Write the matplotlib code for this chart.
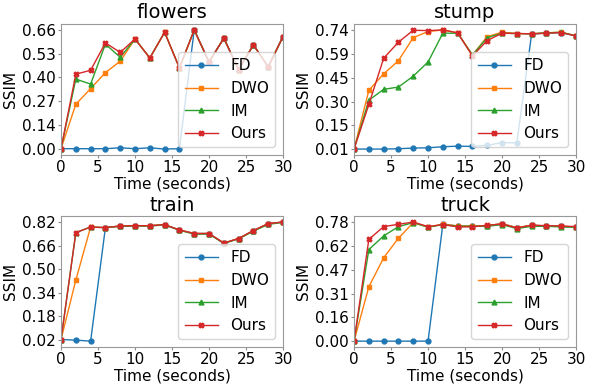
import matplotlib
matplotlib.use("Agg")
import matplotlib.pyplot as plt
import numpy as np

time = [0, 2, 4, 6, 8, 10, 12, 14, 16, 18, 20, 22, 24, 26, 28, 30]
methods = ["FD", "DWO", "IM", "Ours"]
markers = ["o", "s", "^", "X"]
colors = ["#1f77b4", "#ff7f0e", "#2ca02c", "#d62728"]

scenes = ["flowers", "stump", "train", "truck"]

flowers_fd = [0.0, 0.0, 0.0, 0.0, 0.005, 0.0, 0.005, -0.002, 0.0, 0.66, 0.482, 0.614, 0.44, 0.577, 0.455, 0.623]
flowers_dwo = [0.0, 0.247, 0.334, 0.423, 0.486, 0.61, 0.504, 0.647, 0.449, 0.66, 0.482, 0.614, 0.44, 0.577, 0.455, 0.623]
flowers_im = [0.0, 0.387, 0.359, 0.581, 0.508, 0.61, 0.504, 0.647, 0.449, 0.66, 0.482, 0.614, 0.44, 0.577, 0.455, 0.623]
flowers_ours = [0.0, 0.414, 0.436, 0.588, 0.535, 0.61, 0.504, 0.647, 0.449, 0.66, 0.482, 0.614, 0.44, 0.577, 0.455, 0.623]

stump_fd = [0.01, 0.01, 0.01, 0.012, 0.016, 0.018, 0.024, 0.028, 0.026, 0.032, 0.05, 0.048, 0.718, 0.722, 0.726, 0.705]
stump_dwo = [0.01, 0.371, 0.472, 0.553, 0.695, 0.732, 0.742, 0.724, 0.588, 0.701, 0.728, 0.72, 0.718, 0.724, 0.728, 0.705]
stump_im = [0.01, 0.31, 0.377, 0.391, 0.458, 0.545, 0.722, 0.722, 0.588, 0.695, 0.722, 0.72, 0.718, 0.724, 0.728, 0.705]
stump_ours = [0.01, 0.284, 0.568, 0.667, 0.74, 0.738, 0.742, 0.724, 0.582, 0.677, 0.722, 0.72, 0.718, 0.722, 0.726, 0.705]

train_fd = [0.022, 0.018, 0.011, 0.782, 0.793, 0.795, 0.795, 0.802, 0.766, 0.742, 0.742, 0.677, 0.708, 0.762, 0.809, 0.82]
train_dwo = [0.022, 0.426, 0.786, 0.782, 0.793, 0.795, 0.795, 0.802, 0.766, 0.742, 0.742, 0.677, 0.708, 0.762, 0.809, 0.82]
train_im = [0.022, 0.748, 0.786, 0.782, 0.791, 0.793, 0.793, 0.8, 0.764, 0.738, 0.738, 0.675, 0.706, 0.758, 0.804, 0.818]
train_ours = [0.022, 0.748, 0.786, 0.782, 0.793, 0.795, 0.795, 0.802, 0.766, 0.742, 0.742, 0.677, 0.708, 0.762, 0.809, 0.82]

truck_fd = [0.0, 0.0, 0.0, 0.0, 0.0, 0.0, 0.767, 0.756, 0.756, 0.758, 0.771, 0.745, 0.761, 0.756, 0.754, 0.748]
truck_dwo = [0.0, 0.357, 0.547, 0.676, 0.778, 0.748, 0.769, 0.756, 0.756, 0.758, 0.771, 0.745, 0.761, 0.756, 0.754, 0.748]
truck_im = [0.0, 0.601, 0.691, 0.752, 0.778, 0.748, 0.765, 0.754, 0.754, 0.754, 0.765, 0.739, 0.754, 0.754, 0.75, 0.748]
truck_ours = [0.0, 0.668, 0.752, 0.767, 0.782, 0.752, 0.765, 0.75, 0.75, 0.761, 0.769, 0.743, 0.761, 0.758, 0.756, 0.752]

series = {
    "flowers": [flowers_fd, flowers_dwo, flowers_im, flowers_ours],
    "stump": [stump_fd, stump_dwo, stump_im, stump_ours],
    "train": [train_fd, train_dwo, train_im, train_ours],
    "truck": [truck_fd, truck_dwo, truck_im, truck_ours],
}

ytick_labels = {
    "flowers": ["0.00", "0.14", "0.27", "0.40", "0.53", "0.66"],
    "stump": ["0.01", "0.15", "0.30", "0.45", "0.59", "0.74"],
    "train": ["0.02", "0.18", "0.34", "0.50", "0.66", "0.82"],
    "truck": ["0.00", "0.16", "0.31", "0.47", "0.62", "0.78"],
}
xticks = [0, 5, 10, 15, 20, 25, 30]

fig, axes = plt.subplots(2, 2, figsize=(5.89, 3.90), dpi=100)
fig.subplots_adjust(left=0.1036, right=0.978, top=0.9385, bottom=0.110,
                    wspace=0.32, hspace=0.466)

for ax, scene in zip(axes.flat, scenes):
    for vals, name, mk, c in zip(series[scene], methods, markers, colors):
        ax.plot(time, vals, marker=mk, color=c, label=name, linewidth=1.0,
                markersize=3.5)
    labels = ytick_labels[scene]
    lo, hi = float(labels[0]), float(labels[-1])
    ax.set_yticks(np.linspace(lo, hi, len(labels)))
    ax.set_yticklabels(labels)
    ax.set_xlim(0, 30)
    ax.set_xticks(xticks)
    ax.tick_params(labelsize=11, color="0.55", length=2, pad=1.5)
    for sp in ax.spines.values():
        sp.set_color("0.6")
    ax.set_title(scene, fontsize=14, pad=4)
    ax.set_xlabel("Time (seconds)", fontsize=11, labelpad=1)
    ax.set_ylabel("SSIM", fontsize=11, labelpad=3)
    ax.legend(loc="lower right", fontsize=11, handlelength=2.2)

fig.savefig("out.png", dpi=100)
